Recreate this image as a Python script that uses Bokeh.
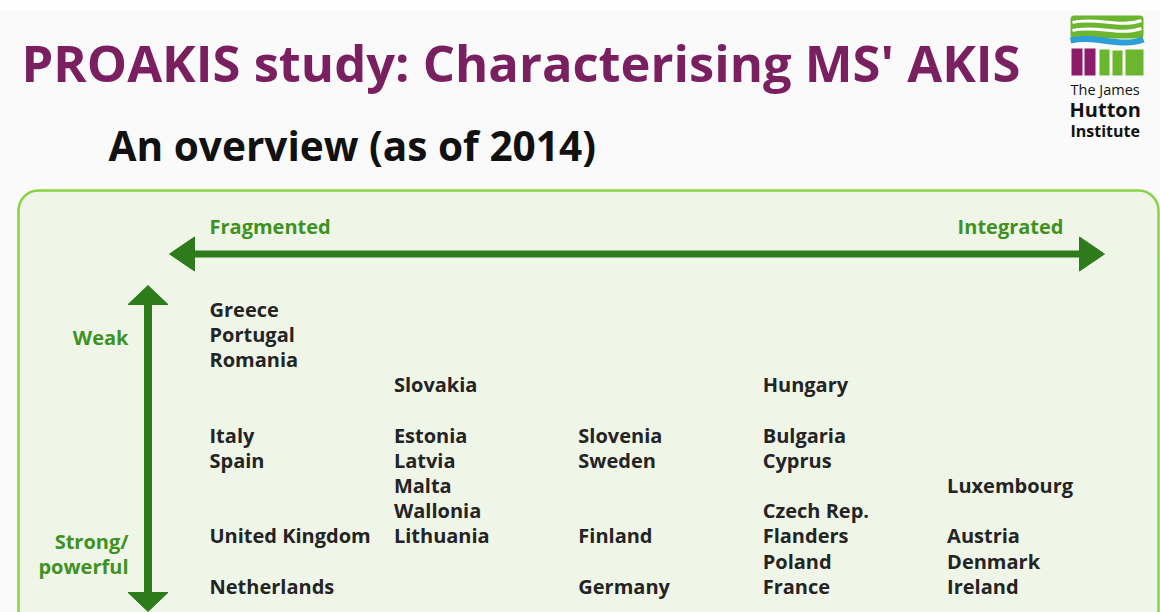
from bokeh.plotting import figure
from bokeh.models import Range1d, BoxAnnotation, ColumnDataSource
from bokeh.core.properties import value
from bokeh.embed import file_html
from bokeh.resources import INLINE

# ---------------- data ----------------
title = "PROAKIS study: Characterising MS' AKIS"
subtitle = "An overview (as of 2014)"
countries = ["Greece", "Portugal", "Romania",
             "Slovakia", "Hungary",
             "Italy", "Spain",
             "Estonia", "Latvia", "Malta", "Wallonia", "Lithuania",
             "Slovenia", "Sweden", "Finland", "Germany",
             "Bulgaria", "Cyprus", "Czech Rep.", "Flanders", "Poland", "France",
             "Luxembourg", "Austria", "Denmark", "Ireland",
             "United Kingdom", "Netherlands"]
# integration level column (0 = fragmented ... 4 = integrated)
integration = [0, 0, 0,
               1, 3,
               0, 0,
               1, 1, 1, 1, 1,
               2, 2, 2, 2,
               3, 3, 3, 3, 3, 3,
               4, 4, 4, 4,
               0, 0]
# strength row (0 = weak ... 11 = strong/powerful)
strength = [0, 1, 2,
            3, 3,
            5, 6,
            5, 6, 7, 8, 9,
            5, 6, 9, 11,
            5, 6, 8, 9, 10, 11,
            7, 9, 10, 11,
            9, 11]
axis_x_labels = ["Fragmented", "Integrated"]
axis_y_labels = ["Weak", "Strong/", "powerful"]
logo_lines = ["The James", "Hutton", "Institute"]

# ---------------- colours ----------------
PURPLE = "#7a1f60"
DKGREEN = "#2e7b1c"
LBLGREEN = "#3f9222"
BOXFILL = "#eff5e7"
BOXLINE = "#88d345"
TXT = "#242424"
BG = "#fafafa"

W, H = 1160, 612
# column/row -> pixel layout
col_x0, col_dx = 209.0, 184.4
row_y0, row_dy = 308.5, 25.2
xr = Range1d((0 - col_x0) / col_dx, (W - col_x0) / col_dx)
yr = Range1d((H - row_y0) / row_dy, (0 - row_y0) / row_dy)

p = figure(width=W, height=H, x_range=xr, y_range=yr,
           x_axis_type=None, y_axis_type=None,
           output_backend="svg", toolbar_location=None,
           min_border=0, background_fill_color=BG, border_fill_color=BG)
p.outline_line_color = None
p.grid.visible = False
p.extra_x_ranges = {"px": Range1d(0, W)}
p.extra_y_ranges = {"px": Range1d(H, 0)}
PX = dict(x_range_name="px", y_range_name="px")

# white top strip
p.quad(left=[0], right=[W], top=[0], bottom=[10], fill_color="white", line_color=None, **PX)

# rounded box
box = BoxAnnotation(left=18, right=1158, top=190, bottom=680, border_radius=20,
                    fill_color=BOXFILL, fill_alpha=1, line_color=BOXLINE, line_alpha=1,
                    line_width=2.5, level="underlay",
                    x_range_name="px", y_range_name="px")
p.add_layout(box)

# title texts
p.text(x=[21], y=[62], text=[title], text_font=value("Open Sans"), text_font_style="bold",
       text_font_size="50.7px", text_color=PURPLE, text_baseline="middle", **PX)
p.text(x=[108], y=[145], text=[subtitle], text_font=value("Open Sans"), text_font_style="bold",
       text_font_size="40.6px", text_color="#111111", text_baseline="middle", **PX)

# arrows
p.segment(x0=[190], y0=[253.5], x1=[1084], y1=[253.5], line_color=DKGREEN, line_width=7, **PX)
p.patches(xs=[[169, 194, 194], [1104, 1079, 1079]],
          ys=[[253.5, 236.5, 270.5], [253.5, 236.5, 270.5]],
          fill_color=DKGREEN, line_color=DKGREEN, **PX)
p.segment(x0=[147.5], y0=[300], x1=[147.5], y1=[595], line_color=DKGREEN, line_width=8, **PX)
p.patches(xs=[[147.5, 127.5, 167.5], [147.5, 127.5, 167.5]],
          ys=[[285, 304, 304], [611, 592, 592]],
          fill_color=DKGREEN, line_color=DKGREEN, **PX)

# axis labels
lab = dict(text_font=value("Open Sans"), text_font_style="bold", text_font_size="20px",
           text_color=LBLGREEN, text_baseline="middle")
p.text(x=[209], y=[226], text=[axis_x_labels[0]], text_align="left", **lab, **PX)
p.text(x=[1063], y=[226], text=[axis_x_labels[1]], text_align="right", **lab, **PX)
p.text(x=[128, 128, 128], y=[337, 541, 566], text=axis_y_labels, text_align="right", **lab, **PX)

# countries
src = ColumnDataSource(dict(x=integration, y=strength, name=countries))
p.text(x="x", y="y", text="name", source=src, text_font=value("Open Sans"),
       text_font_style="bold", text_font_size="20px", text_color=TXT,
       text_baseline="middle", text_align="left")

# logo
LG, LB, LP = "#6cb52e", "#2b9fd8", "#8c1b6c"
p.quad(left=[1070], right=[1143], top=[15], bottom=[38], fill_color=LG, line_color=None,
       border_radius=4, **PX)
p.bezier(x0=[1072, 1072], y0=[22, 30], x1=[1141, 1141], y1=[20, 28],
         cx0=[1095, 1095], cy0=[16, 24], cx1=[1118, 1118], cy1=[28, 36],
         line_color="white", line_width=3, **PX)
p.bezier(x0=[1070], y0=[40], x1=[1143], y1=[39], cx0=[1094], cy0=[34], cx1=[1119], cy1=[48],
         line_color=LB, line_width=6, **PX)
p.quad(left=[1071, 1084], right=[1082, 1095], top=[48, 48], bottom=[75, 75],
       fill_color=LP, line_color=None, **PX)
p.quad(left=[1099, 1112, 1125], right=[1109, 1122, 1143], top=[49, 50, 49], bottom=[75, 75, 75],
       fill_color=LG, line_color=None, **PX)
p.text(x=[1070], y=[89], text=[logo_lines[0]], text_font=value("Open Sans"), text_font_size="14.5px",
       text_color="#111111", text_baseline="middle", **PX)
p.text(x=[1069], y=[109], text=[logo_lines[1]], text_font=value("Open Sans"), text_font_style="bold",
       text_font_size="20px", text_color="#111111", text_baseline="middle", **PX)
p.text(x=[1070], y=[130], text=[logo_lines[2]], text_font=value("Open Sans"), text_font_style="bold",
       text_font_size="16px", text_color="#111111", text_baseline="middle", **PX)

open("out.html", "w").write(file_html(p, INLINE))
